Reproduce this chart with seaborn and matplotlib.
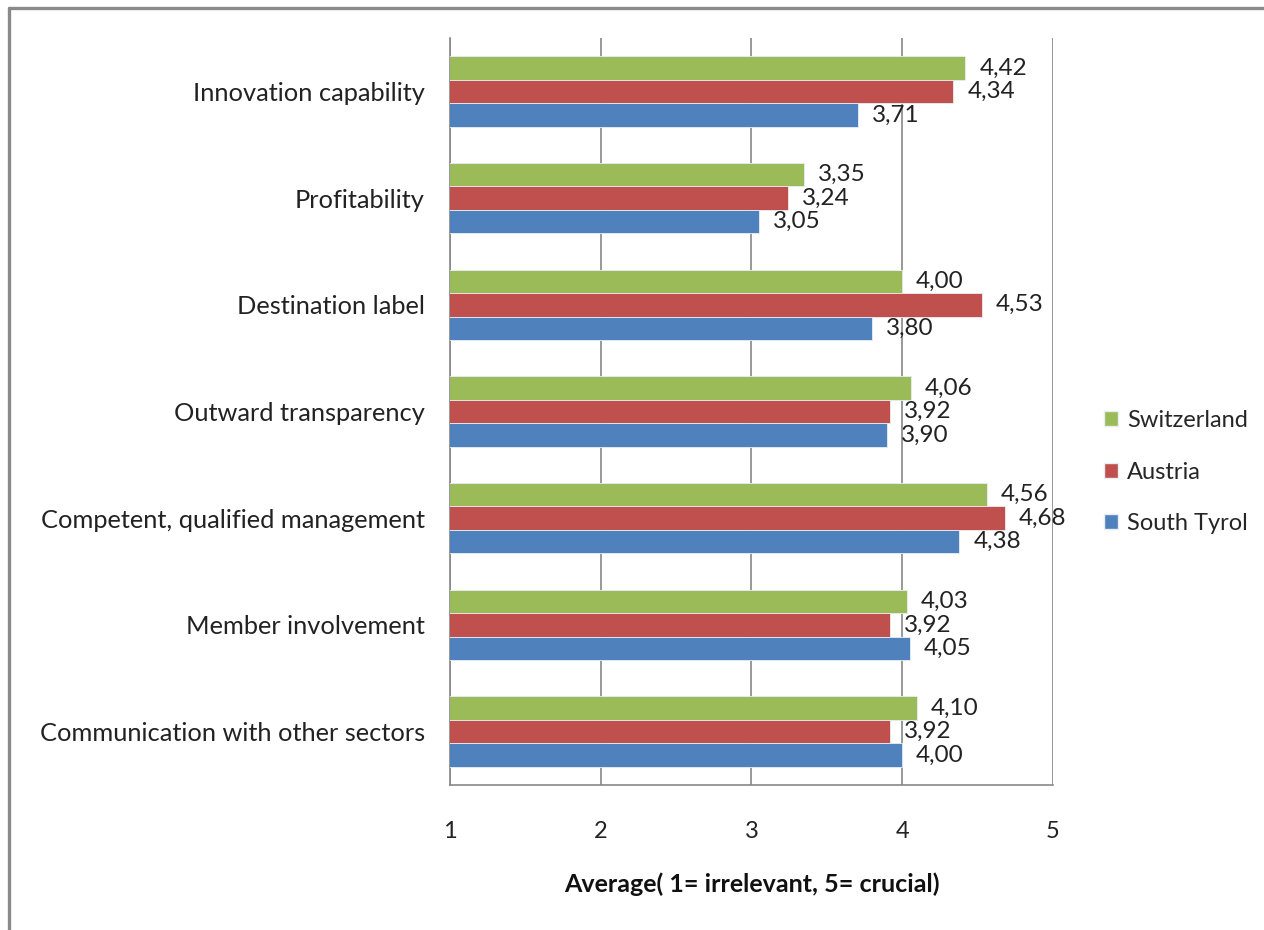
import matplotlib
matplotlib.use("Agg")
import matplotlib.pyplot as plt
from matplotlib.lines import Line2D
from matplotlib.ticker import FixedLocator, NullFormatter
import seaborn as sns
import pandas as pd

categories = [
    "Innovation capability",
    "Profitability",
    "Destination label",
    "Outward transparency",
    "Competent, qualified management",
    "Member involvement",
    "Communication with other sectors",
]
series = ["Switzerland", "Austria", "South Tyrol"]
switzerland = [4.42, 3.35, 4.00, 4.06, 4.56, 4.03, 4.10]
austria = [4.34, 3.24, 4.53, 3.92, 4.68, 3.92, 3.92]
south_tyrol = [3.71, 3.05, 3.80, 3.90, 4.38, 4.05, 4.00]
x_ticks = [1, 2, 3, 4, 5]
x_label = "Average( 1= irrelevant, 5= crucial)"

colors = {"Switzerland": "#9BBB59", "Austria": "#C0504D", "South Tyrol": "#4F81BD"}

rows = []
for name, vals in zip(series, [switzerland, austria, south_tyrol]):
    for cat, v in zip(categories, vals):
        rows.append({"category": cat, "country": name, "value": v})
df = pd.DataFrame(rows)

sns.set_theme(style="white")
plt.rcParams["font.family"] = ["Lato", "DejaVu Sans"]

fig = plt.figure(figsize=(12.64, 9.30), dpi=100)
ax = fig.add_axes([0.356, 0.156, 0.477, 0.803])

sns.barplot(
    data=df, y="category", x="value", hue="country",
    order=categories, hue_order=series, palette=colors, saturation=1,
    orient="h", width=0.66, ax=ax, errorbar=None,
    edgecolor="#e8eef5", linewidth=0.6, zorder=3,
)

ax.set_xlim(1, 5)
ax.set_ylim(len(categories) - 0.5, -0.5)
ax.set_xticks(x_ticks)
ax.set_xticklabels([str(t) for t in x_ticks], fontsize=17, color="#222222")
ax.tick_params(axis="x", length=8, width=1.2, color="#888888", direction="out", pad=18)
ax.xaxis.grid(True, color="#888888", linewidth=1.2, zorder=0)
ax.set_axisbelow(True)

ax.yaxis.set_minor_locator(FixedLocator([i + 0.5 for i in range(-1, len(categories))]))
ax.yaxis.set_minor_formatter(NullFormatter())
ax.tick_params(axis="y", which="major", length=0, pad=18, labelsize=18.3, labelcolor="#222222")
ax.tick_params(axis="y", which="minor", length=7, width=1.2, color="#888888", direction="out")

for s in ["top", "right"]:
    ax.spines[s].set_visible(False)
for s in ["left", "bottom"]:
    ax.spines[s].set_color("#888888")
    ax.spines[s].set_linewidth(1.2)

ax.set_ylabel("")
ax.set_xlabel(x_label, fontsize=18, fontweight="bold", color="#111111", labelpad=22)

for container in ax.containers:
    labels = [f"{v:.2f}".replace(".", ",") for v in container.datavalues]
    ax.bar_label(container, labels=labels, padding=10, fontsize=17.5, color="#222222")

handles = [plt.Rectangle((0, 0), 1, 1, facecolor=colors[s], edgecolor="#e8eef5") for s in series]
ax.legend(handles, series, loc="center left", bbox_to_anchor=(1.05, 0.419),
          frameon=False, fontsize=17, handlelength=0.6, handleheight=0.6,
          labelspacing=1.3, handletextpad=0.35)

fig.add_artist(Line2D([8.5 / 1264, 8.5 / 1264], [0, 1 - 8.5 / 930], color="#8a8a8a", linewidth=2.4))
fig.add_artist(Line2D([8.5 / 1264, 1], [1 - 8.5 / 930, 1 - 8.5 / 930], color="#8a8a8a", linewidth=2.4))

fig.savefig("out.png", dpi=100, facecolor="white")
